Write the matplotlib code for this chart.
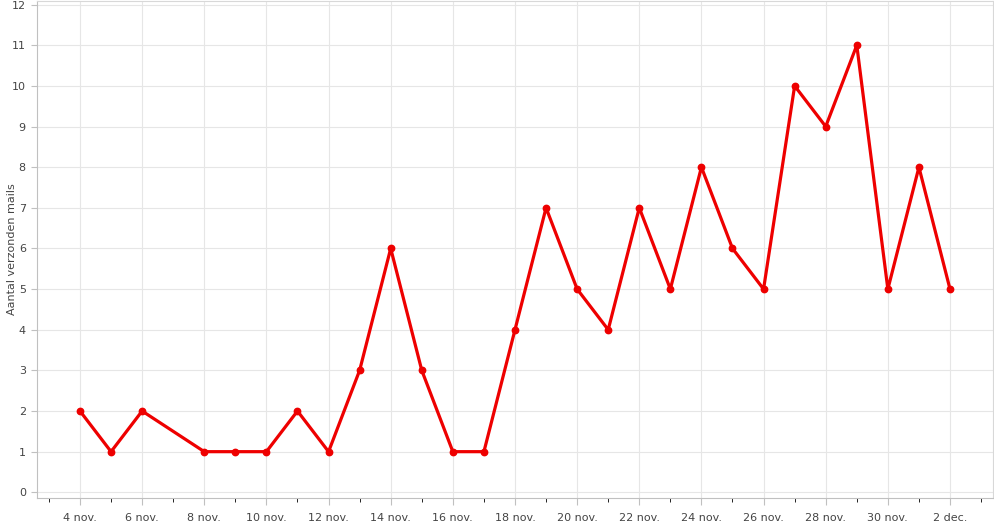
import datetime as dt
import matplotlib
matplotlib.use('Agg')
from matplotlib import pyplot as plt
import matplotlib.dates as mdates

# dagen (7 nov ontbreekt in de data)
dagen = ['2013-11-04', '2013-11-05', '2013-11-06', '2013-11-08', '2013-11-09',
         '2013-11-10', '2013-11-11', '2013-11-12', '2013-11-13', '2013-11-14',
         '2013-11-15', '2013-11-16', '2013-11-17', '2013-11-18', '2013-11-19',
         '2013-11-20', '2013-11-21', '2013-11-22', '2013-11-23', '2013-11-24',
         '2013-11-25', '2013-11-26', '2013-11-27', '2013-11-28', '2013-11-29',
         '2013-11-30', '2013-12-01', '2013-12-02']
aantal = [2, 1, 2, 1, 1, 1, 2, 1, 3, 6, 3, 1, 1, 4, 7, 5, 4, 7, 5, 8, 6, 5,
          10, 9, 11, 5, 8, 5]
maanden = {11: 'nov.', 12: 'dec.'}

datums = [dt.datetime.strptime(d, '%Y-%m-%d') for d in dagen]

fig = plt.figure(figsize=(9.94, 5.29), dpi=100)
ax = fig.add_axes([0.0372, 0.0586, 0.9618, 0.9404])

ax.plot(datums, aantal, color='#ee0000', linewidth=2.3, marker='o',
        markersize=4.6, solid_joinstyle='round', zorder=3)

pad = dt.timedelta(days=1.384)
ax.set_xlim(datums[0] - pad, datums[-1] + pad)
ax.set_ylim(-0.14, 12.1)

ax.xaxis.set_major_locator(mdates.DayLocator(bymonthday=range(2, 32, 2)))
ax.xaxis.set_minor_locator(mdates.DayLocator(bymonthday=range(1, 32, 2)))
ax.xaxis.set_major_formatter(
    plt.FuncFormatter(lambda x, p: f'{mdates.num2date(x).day} {maanden[mdates.num2date(x).month]}'))
ax.set_yticks(range(0, 13))

ax.grid(True, color='#e6e6e6', linewidth=0.8)
ax.set_axisbelow(True)
for kant in ['top', 'right']:
    ax.spines[kant].set_color('#d8d8d8')
ax.spines['left'].set_color('#c0c0c0')
ax.spines['bottom'].set_color('#c0c0c0')

ax.tick_params(axis='both', colors='#c0c0c0', labelcolor='#444444', labelsize=8)
ax.tick_params(axis='x', which='major', length=5, pad=6)
ax.tick_params(axis='x', which='minor', length=3)
ax.tick_params(axis='y', length=4, pad=4)

ax.set_ylabel('Aantal verzonden mails', fontsize=8, color='#444444')
ax.yaxis.set_label_coords(-0.021, 0.5)

plt.savefig('out.png', dpi=100)
